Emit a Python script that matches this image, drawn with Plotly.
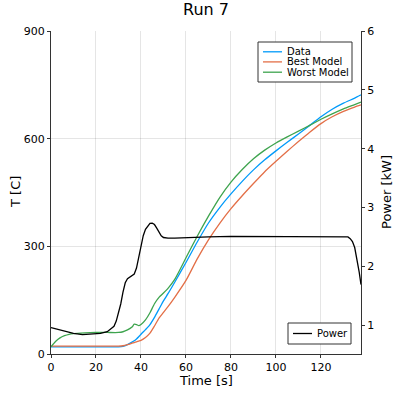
import plotly.graph_objects as go

# temperature series [C] vs time [s]
time_T = [0, 2, 4, 6, 8, 10, 15, 20, 25, 30, 32, 34, 36, 37, 38, 39, 40, 42, 44, 46, 48, 50, 52, 55,
          60, 65, 70, 75, 80, 85, 90, 95, 100, 105, 110, 115, 120, 125, 130, 135, 137.8]
data_T = [20, 20, 20, 20, 20, 20, 20, 20, 20, 20, 21, 26, 33, 37, 42, 48, 55, 68, 82, 102, 125, 148, 168, 200,
          255, 312, 365, 408, 446, 481, 513, 541, 566, 590, 613, 637, 661, 682, 699, 713, 722]
best_T = [22, 22, 22, 22, 22, 22, 22, 22, 22, 22, 23, 26, 30, 32, 34, 36, 38, 46, 58, 78, 100, 116, 132, 158,
          205, 265, 318, 364, 405, 441, 475, 508, 537, 565, 592, 618, 642, 661, 676, 688, 694]
worst_T = [20, 35, 45, 51, 55, 57, 59, 60, 60, 60, 62, 67, 75, 83, 82, 79, 82, 95, 115, 140, 158, 170, 183, 208,
           268, 328, 384, 436, 479, 514, 544, 568, 588, 605, 621, 637, 654, 669, 683, 695, 702]

# heater power [kW]
time_P = [0, 5, 10, 14, 18, 22, 25, 27, 28, 29, 30, 31, 32, 33, 34, 35, 36, 37, 38, 39, 40, 41, 42, 43, 44,
          45, 46, 47, 48, 49, 50, 52, 55, 60, 70, 80, 90, 100, 110, 120, 130, 132, 133, 134, 135, 136, 137, 137.8]
power = [0.96, 0.91, 0.86, 0.84, 0.845, 0.86, 0.89, 0.94, 0.98, 1.07, 1.2, 1.36, 1.56, 1.72, 1.79, 1.82, 1.84,
         1.87, 1.97, 2.15, 2.35, 2.52, 2.63, 2.69, 2.73, 2.735, 2.71, 2.65, 2.58, 2.52, 2.49, 2.48, 2.48, 2.49,
         2.50, 2.51, 2.51, 2.50, 2.51, 2.51, 2.51, 2.50, 2.47, 2.42, 2.32, 2.12, 1.9, 1.69]

series_names = ["Data", "Best Model", "Worst Model"]
series_colors = ["#009AFA", "#E36F47", "#3EA44E"]

FONT = "DejaVu Sans"
W, H = 399, 399
plot_l, plot_r, plot_t, plot_b = 51, 361, 31, 354


def px(x):
    return (x - plot_l) / (plot_r - plot_l)


def py(y):
    return (plot_b - y) / (plot_b - plot_t)


fig = go.Figure()
for name, vals, col in zip(series_names, [data_T, best_T, worst_T], series_colors):
    fig.add_trace(go.Scatter(x=time_T, y=vals, name=name, mode="lines", line_shape="spline",
                             line=dict(color=col, width=1.3, smoothing=0.6), showlegend=False))
fig.add_trace(go.Scatter(x=time_P, y=power, name="Power", mode="lines", yaxis="y2",
                         line=dict(color="black", width=1.3), showlegend=False))

axis_common = dict(showline=True, linecolor="#333", linewidth=1, ticks="outside", ticklen=3,
                   tickcolor="#333", tickfont=dict(size=11, color="black", family=FONT), zeroline=False)

# legend boxes drawn by hand (GR-style compact legend)
shapes = []
annotations = []


def legend_box(x0, y0, x1, y1, entries, line_x0, line_x1, text_x):
    shapes.append(dict(type="rect", xref="paper", yref="paper", x0=px(x0), x1=px(x1), y0=py(y0), y1=py(y1),
                       line=dict(color="#333", width=1), fillcolor="white", layer="above"))
    for (label, col, yy) in entries:
        shapes.append(dict(type="line", xref="paper", yref="paper", x0=px(line_x0), x1=px(line_x1),
                           y0=py(yy), y1=py(yy), line=dict(color=col, width=1.3), layer="above"))
        annotations.append(dict(text=label, xref="paper", yref="paper", x=px(text_x), y=py(yy),
                                xanchor="left", yanchor="middle", showarrow=False,
                                font=dict(size=10, family=FONT, color="black")))


legend_box(258, 42, 352, 82,
           [(n, c, yy) for n, c, yy in zip(series_names, series_colors, [51.8, 61.9, 72.2])],
           263, 282, 285)
legend_box(288, 323, 351, 344, [("Power", "black", 333.5)], 293, 312, 315)

# axis titles
for text, x, y, ang in [("Time [s]", 206, 380, 0), ("T [C]", 15, 192, -90), ("Power [kW]", 386, 192, -90)]:
    annotations.append(dict(text=text, textangle=ang, x=px(x), y=py(y), xref="paper", yref="paper",
                            xanchor="center", yanchor="middle", showarrow=False,
                            font=dict(size=13, family=FONT, color="black")))

fig.update_layout(
    width=W, height=H,
    margin=dict(l=plot_l, r=W - plot_r, t=plot_t, b=H - plot_b),
    plot_bgcolor="white", paper_bgcolor="white",
    font=dict(family=FONT, color="black"),
    title=dict(text="Run 7", x=206 / W, xanchor="center", y=1 - 9 / H, yanchor="middle", yref="container",
               font=dict(size=16)),
    xaxis=dict(range=[0, 137.8], tickvals=[0, 20, 40, 60, 80, 100, 120], showgrid=True,
               gridcolor="rgba(0,0,0,0.1)", gridwidth=0.5, **axis_common),
    yaxis=dict(range=[0, 900], tickvals=[0, 300, 600, 900], showgrid=True,
               gridcolor="rgba(0,0,0,0.1)", gridwidth=0.5, **axis_common),
    yaxis2=dict(range=[0.51, 6], tickvals=[1, 2, 3, 4, 5, 6], overlaying="y", side="right",
                showgrid=False, **axis_common),
    shapes=shapes,
    annotations=annotations,
    showlegend=False,
)

fig.write_html("out.html", config={"displayModeBar": False},
               post_script="document.body.style.margin='0';")
